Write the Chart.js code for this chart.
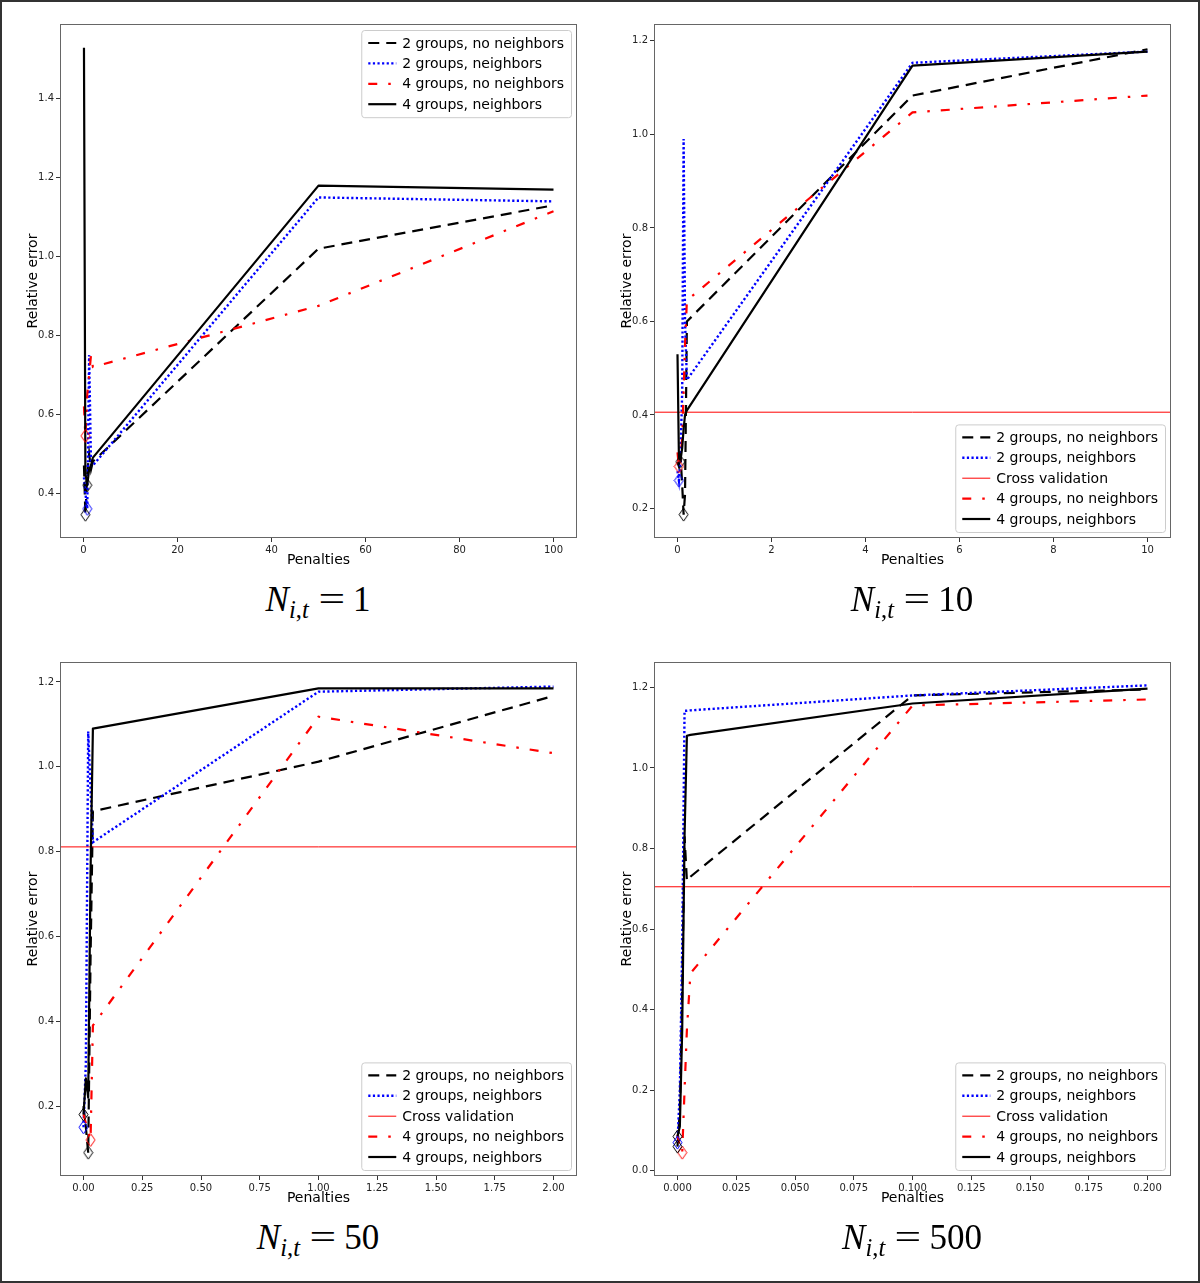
<!DOCTYPE html>
<html>
<head>
<meta charset="utf-8">
<script src="https://cdn.jsdelivr.net/npm/chart.js@4.4.1/dist/chart.umd.min.js"></script>
<style>
  body { margin: 0; background: #fff; }
  #fig { position: relative; width: 1200px; height: 1283px; background: #fff; overflow: hidden; }
  .frame { position: absolute; left: 0; top: 0; width: 1200px; height: 1283px; box-sizing: border-box; border: 2px solid #333; pointer-events: none; }
  .panel { position: absolute; width: 600px; height: 580px; }
  .cap { position: absolute; width: 600px; text-align: center; font-family: "Liberation Serif", "DejaVu Serif", serif; font-size: 35px; line-height: 40px; color: #000; }
  .cap sub { font-size: 0.7em; line-height: 0; vertical-align: -0.3em; }
  .cap .eq { display: inline-block; transform: scaleX(1.35); margin: 0 0.32em 0 0.38em; }
</style>
</head>
<body>
<div id="fig">
  <div class="panel" style="left:0;top:0"><canvas id="c1" width="600" height="580"></canvas></div>
  <div class="panel" style="left:594px;top:0"><canvas id="c2" width="600" height="580"></canvas></div>
  <div class="panel" style="left:0;top:638px"><canvas id="c3" width="600" height="580"></canvas></div>
  <div class="panel" style="left:594px;top:638px"><canvas id="c4" width="600" height="580"></canvas></div>
  <div class="cap" style="left:18px;top:580px"><i>N</i><sub><i>i</i>,<i>t</i></sub><span class="eq">=</span>1</div>
  <div class="cap" style="left:612px;top:580px"><i>N</i><sub><i>i</i>,<i>t</i></sub><span class="eq">=</span>10</div>
  <div class="cap" style="left:18px;top:1218px"><i>N</i><sub><i>i</i>,<i>t</i></sub><span class="eq">=</span>50</div>
  <div class="cap" style="left:612px;top:1218px"><i>N</i><sub><i>i</i>,<i>t</i></sub><span class="eq">=</span>500</div>
  <div class="frame"></div>
</div>
<script>
// series labels
const lblTwoNoNb = "2 groups, no neighbors";
const lblTwoNb = "2 groups, neighbors";
const lblCv = "Cross validation";
const lblFourNoNb = "4 groups, no neighbors";
const lblFourNb = "4 groups, neighbors";

// N_{i,t} = 1
const p1_pen      = [0.1, 0.4, 0.8, 1.2, 1.6, 2.0, 50, 100];
const p1_twoNoNb  = [0.47, 0.345, 0.45, 0.50, 0.46, 0.48, 1.02, 1.13];
const p1_twoNb    = [0.44, 0.40, 0.36, 0.75, 0.47, 0.47, 1.15, 1.14];
const p1_fourNoNb = [0.62, 0.545, 0.65, 0.70, 0.75, 0.72, 0.875, 1.115];
const p1_fourNb   = [1.53, 0.45, 0.42, 0.46, 0.47, 0.49, 1.18, 1.17];
const p1_xLim = [-5, 105];
const p1_yLim = [0.286, 1.59];
const p1_xTicks = [0, 20, 40, 60, 80, 100];
const p1_xLabels = ["0", "20", "40", "60", "80", "100"];
const p1_yTicks = [0.4, 0.6, 0.8, 1.0, 1.2, 1.4];
const p1_yLabels = ["0.4", "0.6", "0.8", "1.0", "1.2", "1.4"];

// N_{i,t} = 10
const p2_pen      = [0.0, 0.03, 0.06, 0.1, 0.13, 0.16, 0.2, 5, 10];
const p2_twoNoNb  = [0.30, 0.29, 0.32, 0.25, 0.187, 0.23, 0.60, 1.083, 1.182];
const p2_twoNb    = [0.28, 0.26, 0.30, 0.45, 0.99, 0.60, 0.475, 1.153, 1.177];
const p2_fourNoNb = [0.32, 0.29, 0.30, 0.35, 0.45, 0.55, 0.645, 1.047, 1.083];
const p2_fourNb   = [0.53, 0.31, 0.30, 0.33, 0.37, 0.40, 0.41, 1.147, 1.177];
const p2_cv = 0.406;
const p2_xLim = [-0.5, 10.5];
const p2_yLim = [0.137, 1.236];
const p2_xTicks = [0, 2, 4, 6, 8, 10];
const p2_xLabels = ["0", "2", "4", "6", "8", "10"];
const p2_yTicks = [0.2, 0.4, 0.6, 0.8, 1.0, 1.2];
const p2_yLabels = ["0.2", "0.4", "0.6", "0.8", "1.0", "1.2"];

// N_{i,t} = 50
const p3_pen      = [0.0, 0.01, 0.02, 0.03, 0.04, 1.0, 2.0];
const p3_twoNoNb  = [0.20, 0.15, 0.09, 0.55, 0.895, 1.012, 1.167];
const p3_twoNb    = [0.15, 0.30, 1.083, 0.95, 0.822, 1.177, 1.189];
const p3_fourNoNb = [0.18, 0.16, 0.14, 0.12, 0.39, 1.118, 1.032];
const p3_fourNb   = [0.18, 0.265, 0.22, 0.75, 1.09, 1.185, 1.185];
const p3_cv = 0.811;
const p3_xLim = [-0.1, 2.1];
const p3_yLim = [0.035, 1.247];
const p3_xTicks = [0, 0.25, 0.5, 0.75, 1.0, 1.25, 1.5, 1.75, 2.0];
const p3_xLabels = ["0.00", "0.25", "0.50", "0.75", "1.00", "1.25", "1.50", "1.75", "2.00"];
const p3_yTicks = [0.2, 0.4, 0.6, 0.8, 1.0, 1.2];
const p3_yLabels = ["0.2", "0.4", "0.6", "0.8", "1.0", "1.2"];

// N_{i,t} = 500
const p4_pen      = [0.0, 0.001, 0.002, 0.003, 0.004, 0.0055, 0.1, 0.2];
const p4_twoNoNb  = [0.06, 0.15, 0.45, 0.83, 0.72, 0.73, 1.18, 1.195];
const p4_twoNb    = [0.07, 0.20, 0.55, 1.142, 1.142, 1.143, 1.18, 1.205];
const p4_fourNoNb = [0.09, 0.06, 0.045, 0.20, 0.35, 0.49, 1.155, 1.17];
const p4_fourNb   = [0.085, 0.11, 0.35, 0.83, 1.08, 1.082, 1.16, 1.197];
const p4_cv = 0.705;
const p4_xLim = [-0.01, 0.21];
const p4_yLim = [-0.013, 1.263];
const p4_xTicks = [0, 0.025, 0.05, 0.075, 0.1, 0.125, 0.15, 0.175, 0.2];
const p4_xLabels = ["0.000", "0.025", "0.050", "0.075", "0.100", "0.125", "0.150", "0.175", "0.200"];
const p4_yTicks = [0.0, 0.2, 0.4, 0.6, 0.8, 1.0, 1.2];
const p4_yLabels = ["0.0", "0.2", "0.4", "0.6", "0.8", "1.0", "1.2"];

// line styles
const stTwoNoNb  = { color: "#000000", dash: [11, 7], width: 2.2 };
const stTwoNb    = { color: "#0000ff", dash: [2.2, 2.4], width: 2.4 };
const stCv       = { color: "#ff0000", dash: [], width: 1 };
const stFourNoNb = { color: "#ff0000", dash: [9, 11, 2.5, 11], width: 2.2 };
const stFourNb   = { color: "#000000", dash: [], width: 2.2 };

const FONT = "DejaVu Sans";

function diamond(color) {
  const c = document.createElement("canvas");
  c.width = 11; c.height = 15;
  const g = c.getContext("2d");
  g.strokeStyle = color; g.lineWidth = 1;
  g.beginPath();
  g.moveTo(5.5, 1); g.lineTo(10, 7.5); g.lineTo(5.5, 14); g.lineTo(1, 7.5);
  g.closePath(); g.stroke();
  return c;
}

function lineSet(xs, ys, st, order) {
  return {
    data: xs.map((x, i) => ({ x: x, y: ys[i] })),
    borderColor: st.color, borderDash: st.dash, borderWidth: st.width,
    borderCapStyle: "butt", borderJoinStyle: st.dash.length ? "miter" : "round",
    pointRadius: 0, tension: 0, fill: false, order: order
  };
}

function minMarker(xs, ys, color) {
  let k = 0;
  ys.forEach((v, i) => { if (v < ys[k]) k = i; });
  return {
    data: [{ x: xs[k], y: ys[k] }],
    showLine: false, pointStyle: diamond(color), pointRadius: 6, order: 0
  };
}

// legend box drawn inside the axes, plus the axes frame
const boxLegend = {
  id: "boxLegend",
  afterDatasetsDraw(chart, args, opts) {
    const ctx = chart.ctx, a = chart.chartArea;
    ctx.save();
    ctx.strokeStyle = "#666"; ctx.lineWidth = 1; ctx.setLineDash([]);
    ctx.strokeRect(a.left + 0.5, a.top + 0.5, a.right - a.left - 1, a.bottom - a.top - 1);

    const items = opts.items || [];
    ctx.font = "14px '" + FONT + "'";
    let maxW = 0;
    items.forEach(it => { maxW = Math.max(maxW, ctx.measureText(it.label).width); });
    const rowH = 20.4;
    const w = 40 + maxW + 8;
    const h = 26 + (items.length - 1) * rowH;
    const x0 = a.right - 6 - w;
    const y0 = opts.anchor === "br" ? a.bottom - 6 - h : a.top + 6;
    ctx.beginPath();
    ctx.roundRect(x0 + 0.5, y0 + 0.5, w, h, 3);
    ctx.fillStyle = "rgba(255,255,255,0.8)"; ctx.fill();
    ctx.strokeStyle = "#cccccc"; ctx.stroke();
    items.forEach((it, i) => {
      const cy = y0 + 13 + i * rowH;
      ctx.beginPath();
      ctx.setLineDash(it.st.dash); ctx.lineCap = "butt";
      ctx.strokeStyle = it.st.color; ctx.lineWidth = it.st.width;
      ctx.moveTo(x0 + 7, cy); ctx.lineTo(x0 + 35, cy); ctx.stroke();
      ctx.setLineDash([]);
      ctx.fillStyle = "#000"; ctx.textBaseline = "middle"; ctx.textAlign = "left";
      ctx.fillText(it.label, x0 + 41, cy + 1);
    });
    ctx.restore();
  }
};

function axis(lim, ticks, labels, title, isX) {
  return {
    type: "linear", min: lim[0], max: lim[1],
    afterBuildTicks: s => { s.ticks = ticks.map(v => ({ value: v })); },
    afterFit: s => { if (isX) s.height = 42; else s.width = 60; },
    ticks: {
      callback: (v, i) => labels[i], autoSkip: false, maxRotation: 0,
      font: { family: FONT, size: 10 }, color: "#222", padding: 2
    },
    grid: { drawOnChartArea: false, drawTicks: true, tickLength: 4, color: "#333", lineWidth: 1 },
    border: { display: false },
    title: {
      display: true, text: title, color: "#000",
      font: { family: FONT, size: 14 },
      padding: isX ? { top: 0, bottom: 11.6 } : { top: 24.6, bottom: 0 }
    }
  };
}

function makePanel(id, pen, twoNoNb, twoNb, fourNoNb, fourNb, cv, xLim, yLim, xTicks, xLabels, yTicks, yLabels) {
  const datasets = [
    lineSet(pen, twoNoNb, stTwoNoNb, 5),
    lineSet(pen, twoNb, stTwoNb, 4),
    lineSet(pen, fourNoNb, stFourNoNb, 2),
    lineSet(pen, fourNb, stFourNb, 1),
    minMarker(pen, twoNoNb, stTwoNoNb.color),
    minMarker(pen, twoNb, stTwoNb.color),
    minMarker(pen, fourNoNb, stFourNoNb.color),
    minMarker(pen, fourNb, stFourNb.color)
  ];
  let items;
  if (cv === null) {
    items = [
      { label: lblTwoNoNb, st: stTwoNoNb }, { label: lblTwoNb, st: stTwoNb },
      { label: lblFourNoNb, st: stFourNoNb }, { label: lblFourNb, st: stFourNb }
    ];
  } else {
    datasets.push({
      data: [{ x: xLim[0], y: cv }, { x: xLim[1], y: cv }],
      borderColor: stCv.color, borderWidth: stCv.width, pointRadius: 0, order: 3
    });
    items = [
      { label: lblTwoNoNb, st: stTwoNoNb }, { label: lblTwoNb, st: stTwoNb },
      { label: lblCv, st: stCv },
      { label: lblFourNoNb, st: stFourNoNb }, { label: lblFourNb, st: stFourNb }
    ];
  }
  new Chart(document.getElementById(id), {
    type: "line",
    data: { datasets: datasets },
    options: {
      responsive: false, animation: false, events: [],
      layout: { padding: { left: 0, right: 23, top: 24, bottom: 0 } },
      scales: {
        x: axis(xLim, xTicks, xLabels, "Penalties", true),
        y: axis(yLim, yTicks, yLabels, "Relative error", false)
      },
      plugins: {
        legend: { display: false }, tooltip: { enabled: false },
        boxLegend: { items: items, anchor: cv === null ? "tr" : "br" }
      }
    },
    plugins: [boxLegend]
  });
}

makePanel("c1", p1_pen, p1_twoNoNb, p1_twoNb, p1_fourNoNb, p1_fourNb, null, p1_xLim, p1_yLim, p1_xTicks, p1_xLabels, p1_yTicks, p1_yLabels);
makePanel("c2", p2_pen, p2_twoNoNb, p2_twoNb, p2_fourNoNb, p2_fourNb, p2_cv, p2_xLim, p2_yLim, p2_xTicks, p2_xLabels, p2_yTicks, p2_yLabels);
makePanel("c3", p3_pen, p3_twoNoNb, p3_twoNb, p3_fourNoNb, p3_fourNb, p3_cv, p3_xLim, p3_yLim, p3_xTicks, p3_xLabels, p3_yTicks, p3_yLabels);
makePanel("c4", p4_pen, p4_twoNoNb, p4_twoNb, p4_fourNoNb, p4_fourNb, p4_cv, p4_xLim, p4_yLim, p4_xTicks, p4_xLabels, p4_yTicks, p4_yLabels);
</script>
</body>
</html>
